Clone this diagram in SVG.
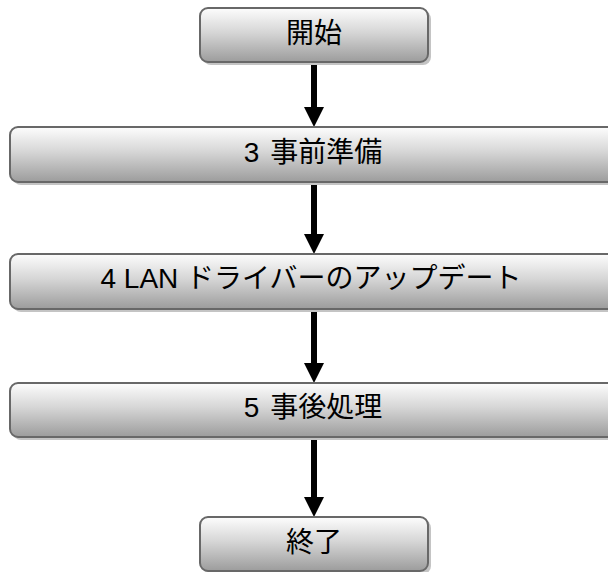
<svg xmlns="http://www.w3.org/2000/svg" width="608" height="572" viewBox="0 0 608 572">
<defs>
<linearGradient id="g" x1="0" y1="0" x2="0" y2="1">
<stop offset="0" stop-color="#fdfdfd"/>
<stop offset="0.45" stop-color="#d6d6d6"/>
<stop offset="1" stop-color="#9c9c9c"/>
</linearGradient>
<marker id="ah" markerUnits="userSpaceOnUse" markerWidth="20" markerHeight="20" viewBox="0 0 20 20" refX="0" refY="10" orient="auto">
<path d="M0,0 L20,10 L0,20 z" fill="#000"/>
</marker>
<style>
.sh{fill:#c4c4c4;}
.bx{fill:url(#g);stroke:#686868;stroke-width:2;}
.t{font-family:"Liberation Sans","Noto Sans CJK JP",sans-serif;font-size:28px;fill:#000;text-anchor:middle;}
.c{stroke:#000;stroke-width:6;fill:none;marker-end:url(#ah);}
</style>
</defs>
<rect width="608" height="572" fill="#fff"/>
<g id="connectors">
<line class="c" x1="314" y1="63" x2="314" y2="107"/>
<line class="c" x1="314" y1="183" x2="314" y2="234"/>
<line class="c" x1="314" y1="310" x2="314" y2="363"/>
<line class="c" x1="314" y1="437" x2="314" y2="497"/>
</g>
<g id="start">
<rect class="sh" x="203" y="11" width="228" height="54" rx="8"/>
<rect class="bx" x="200" y="8" width="228" height="54" rx="8"/>
<text class="t" x="314" y="43">開始</text>
</g>
<g id="step3">
<rect class="sh" x="13" y="130" width="620" height="55" rx="8"/>
<rect class="bx" x="10" y="127" width="620" height="55" rx="8"/>
<text class="t" x="313" y="162">3<tspan dx="3"> 事前準備</tspan></text>
</g>
<g id="step4">
<rect class="sh" x="13" y="257" width="620" height="55" rx="8"/>
<rect class="bx" x="10" y="254" width="620" height="55" rx="8"/>
<text class="t" x="311" y="288">4 LAN ドライバーのアップデート</text>
</g>
<g id="step5">
<rect class="sh" x="13" y="386" width="620" height="54" rx="8"/>
<rect class="bx" x="10" y="383" width="620" height="54" rx="8"/>
<text class="t" x="313" y="417">5<tspan dx="3"> 事後処理</tspan></text>
</g>
<g id="end">
<rect class="sh" x="203" y="520" width="228" height="54" rx="8"/>
<rect class="bx" x="200" y="517" width="228" height="54" rx="8"/>
<text class="t" x="314" y="552">終了</text>
</g>
</svg>
